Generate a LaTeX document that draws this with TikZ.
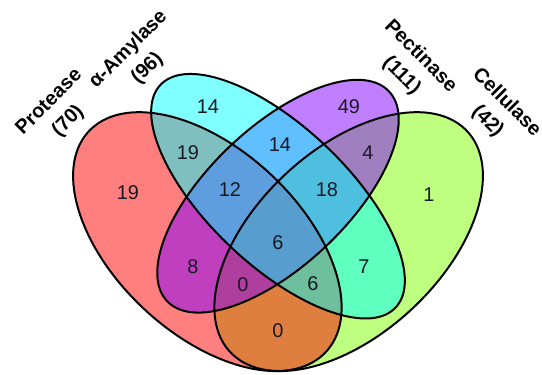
\documentclass[tikz,border=0pt]{standalone}
\usepackage{fontspec}
\setmainfont{Liberation Sans}
\definecolor{cRed}{RGB}{255,0,0}
\definecolor{cCyan}{RGB}{0,255,255}
\definecolor{cPurple}{RGB}{128,0,255}
\definecolor{cGreen}{RGB}{128,255,0}
\definecolor{numcol}{RGB}{25,25,35}
\tikzset{
  setfill/.style={fill opacity=0.5},
  setline/.style={draw=black, line width=1.7pt},
  posA/.style={shift={(0.35,0.47)}, rotate=135},
  posB/.style={shift={(0.50,0.57)}, rotate=135},
  posC/.style={shift={(0.50,0.57)}, rotate=45},
  posD/.style={shift={(0.65,0.47)}, rotate=45},
  num/.style={font=\fontsize{17}{20}\selectfont, text=numcol, inner sep=0pt},
  setlabel/.style={font=\bfseries\fontsize{17}{23}\selectfont, align=center, inner sep=0pt}
}
\newcommand\outerell{(0,0) ellipse [x radius=0.35, y radius=0.20]}
\newcommand\cyanell{(0,0) ellipse [x radius=0.35, y radius=0.15]}
\newcommand\purpell{(0,0) ellipse [x radius=0.33, y radius=0.15]}
\begin{document}
\begin{tikzpicture}
\useasboundingbox (0,0) rectangle (16.26,11.22);
\begin{scope}[shift={(1.275,-2.43)}, xscale=14.13, yscale=13.62]
  % fills, in the blending order green, red, purple, cyan
  \fill[cGreen, setfill, posD] \outerell;
  \fill[cRed, setfill, posA] \outerell;
  \fill[cPurple, setfill, posC] \purpell;
  \fill[cCyan, setfill, posB] \cyanell;
  % outlines
  \draw[setline, posD] \outerell;
  \draw[setline, posA] \outerell;
  \draw[setline, posC] \purpell;
  \draw[setline, posB] \cyanell;
\end{scope}
\begin{scope}[shift={(0cm,11.22cm)}, x=0.03cm, y=-0.03cm]
  \node[num] (r1)  at (128,193) {19};
  \node[num] (r2)  at (208,107) {14};
  \node[num] (r3)  at (188,153) {19};
  \node[num] (r4)  at (280,145) {14};
  \node[num] (r5)  at (349,107) {49};
  \node[num] (r6)  at (368,153) {4};
  \node[num] (r7)  at (429,195) {1};
  \node[num] (r8)  at (230,190) {12};
  \node[num] (r9)  at (327,190) {18};
  \node[num] (r10) at (278,243) {6};
  \node[num] (r11) at (193,267) {8};
  \node[num] (r12) at (243,285) {0};
  \node[num] (r13) at (313,284) {6};
  \node[num] (r14) at (364,267) {7};
  \node[num] (r15) at (278,331) {0};
  \node[setlabel, rotate=45]  (lA) at (59,112)  {Protease\\(70)};
  \node[setlabel, rotate=45]  (lB) at (138,59)  {α-Amylase\\(96)};
  \node[setlabel, rotate=-45] (lC) at (411,66)  {Pectinase\\(111)};
  \node[setlabel, rotate=-45] (lD) at (497,112) {Cellulase\\(42)};
\end{scope}
\end{tikzpicture}
\end{document}
